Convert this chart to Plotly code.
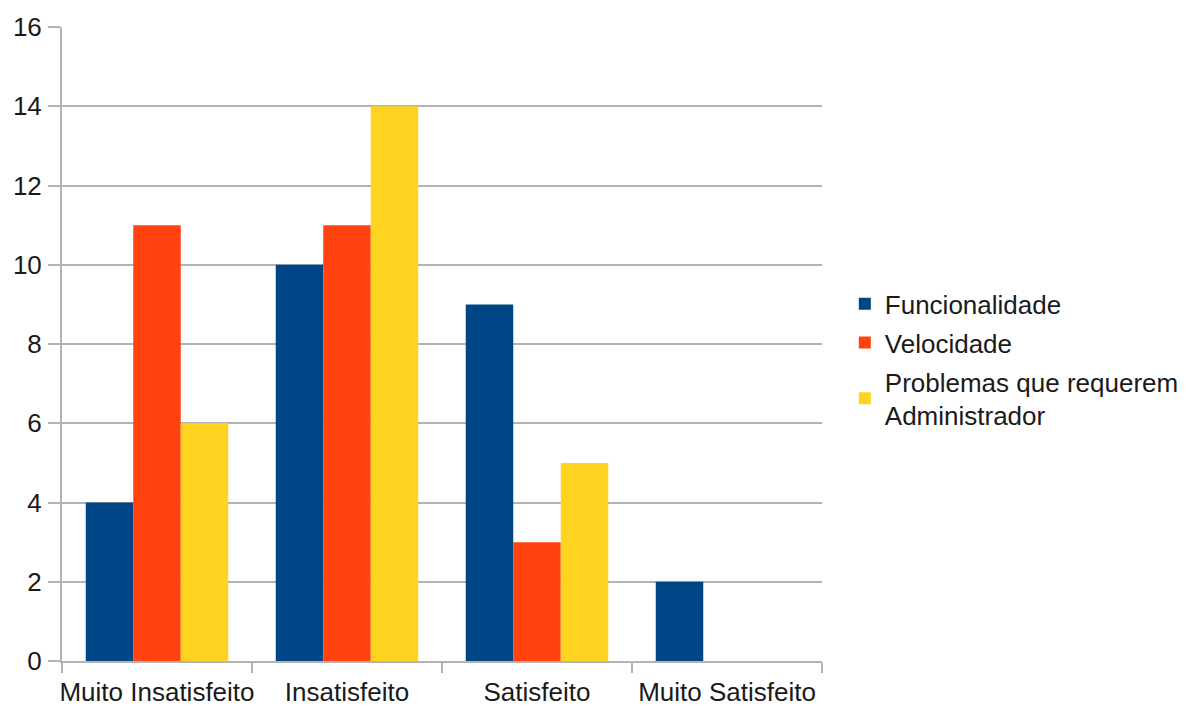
import plotly.graph_objects as go

categories = ["Muito Insatisfeito", "Insatisfeito", "Satisfeito", "Muito Satisfeito"]
funcionalidade = [4, 10, 9, 2]
velocidade = [11, 11, 3, 0]
problemas = [6, 14, 5, 0]
series_names = ["Funcionalidade", "Velocidade", "Problemas que requerem<br>Administrador"]
colors = ["#004586", "#ff420e", "#ffd320"]
y_ticks = [0, 2, 4, 6, 8, 10, 12, 14, 16]

fig = go.Figure()
for i, (name, vals) in enumerate(zip(series_names, [funcionalidade, velocidade, problemas])):
    fig.add_trace(go.Bar(x=categories, y=vals, name=name, marker_color=colors[i],
                         marker_line_width=0, legendgroup=f"g{i}"))

font = dict(family="Liberation Sans, Arial, sans-serif", size=26, color="#1a1a1a")
fig.update_layout(
    barmode="group", bargap=0.25, bargroupgap=0,
    width=1193, height=708,
    margin=dict(l=62, r=371, t=27, b=47, autoexpand=False),
    plot_bgcolor="white", paper_bgcolor="white",
    font=font,
    legend=dict(x=1.03, xanchor="left", y=0.475, yanchor="middle",
                font=font, tracegroupgap=2, itemwidth=30,
                bgcolor="rgba(0,0,0,0)"),
    showlegend=True,
)
fig.update_xaxes(showline=True, linecolor="#b3b3b3", linewidth=2,
                 ticks="outside", tickson="boundaries", ticklen=10, tickcolor="#b3b3b3", tickwidth=2,
                 showgrid=False, tickfont=font, tickangle=0, automargin=False,
                 ticklabelstandoff=7)
fig.update_yaxes(range=[0, 16], tickvals=y_ticks, showline=True, linecolor="#b3b3b3", linewidth=2,
                 ticks="outside", ticklen=12, tickcolor="#b3b3b3", tickwidth=2,
                 showgrid=True, gridcolor="#b3b3b3", gridwidth=1.5, zeroline=False,
                 tickfont=font, ticklabelstandoff=1, automargin=False)

fig.write_html("out.html")
